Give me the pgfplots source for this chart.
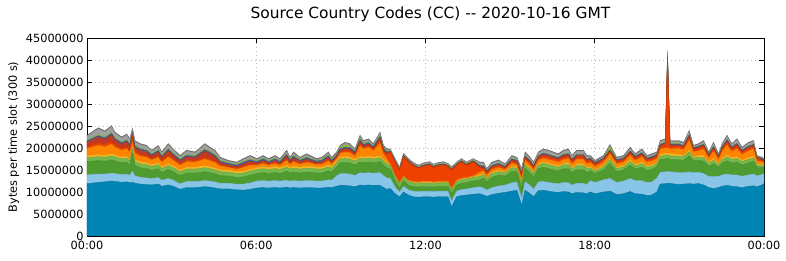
\documentclass[border=0pt]{standalone}
\usepackage{fontspec}
\setmainfont{DejaVu Sans}
\usepackage{pgfplots}
\usepackage{pgfplotstable}
\pgfplotsset{compat=1.18}
\definecolor{cB}{RGB}{0,132,180}
\definecolor{cLB}{RGB}{136,197,230}
\definecolor{cDG}{RGB}{78,155,47}
\definecolor{cLG}{RGB}{116,184,78}
\definecolor{cYw}{RGB}{246,181,33}
\definecolor{cO}{RGB}{255,133,0}
\definecolor{cRO}{RGB}{238,65,0}
\definecolor{cDR}{RGB}{194,58,34}
\definecolor{cBT}{RGB}{58,95,176}
\definecolor{cLI}{RGB}{140,203,42}
\definecolor{cGR}{RGB}{160,160,160}
\definecolor{cDGR}{RGB}{112,112,112}
% values in millions of bytes per 300 s slot
\pgfplotstableread{
h B LB DG LG Yw O RO DR BT LI GR DGR
0.00 11.9 2.0 3.0 0.9 0.5 1.6 0.4 1.0 0.3 0.2 0.9 0.2
0.17 12.0 2.0 3.0 0.9 0.5 1.8 0.5 1.1 0.3 0.2 1.1 0.2
0.40 12.2 1.9 3.0 0.9 0.5 2.1 0.6 1.3 0.3 0.2 1.4 0.2
0.64 12.3 1.8 2.9 0.9 0.5 1.9 0.5 1.2 0.3 0.2 1.2 0.2
0.87 12.5 1.8 3.0 0.9 0.5 2.2 0.6 1.5 0.3 0.2 1.4 0.2
0.99 12.4 1.8 2.9 0.9 0.5 1.7 0.5 1.1 0.3 0.2 1.1 0.2
1.23 12.2 1.8 2.6 0.9 0.5 1.5 0.4 1.0 0.3 0.2 0.9 0.2
1.41 12.3 1.8 2.7 0.9 0.5 1.7 0.4 1.1 0.3 0.2 1.1 0.2
1.52 12.1 1.7 2.3 0.9 0.5 1.5 0.4 1.0 0.3 0.2 1.0 0.2
1.61 12.2 2.6 4.0 0.9 0.5 1.3 0.5 1.2 0.3 0.2 0.6 0.2
1.70 12.0 1.7 2.3 0.9 0.5 1.4 0.4 0.9 0.3 0.2 0.9 0.2
1.88 11.8 1.6 2.1 0.9 0.5 1.3 0.4 0.9 0.3 0.2 0.8 0.2
2.12 11.7 1.5 2.1 0.9 0.5 1.2 0.3 0.9 0.3 0.2 0.8 0.2
2.29 11.6 1.5 1.8 0.9 0.5 1.0 0.3 0.6 0.3 0.2 0.6 0.2
2.53 11.8 1.5 2.0 0.9 0.5 1.2 0.3 0.9 0.3 0.2 0.8 0.2
2.65 11.3 1.4 1.7 0.9 0.5 1.0 0.3 0.7 0.3 0.2 0.6 0.2
2.88 11.6 1.5 2.0 0.9 0.5 1.5 0.4 1.0 0.3 0.2 0.9 0.2
3.06 11.3 1.4 1.9 0.9 0.5 1.2 0.3 0.8 0.3 0.2 0.8 0.2
3.30 10.6 1.3 1.8 0.9 0.5 1.0 0.3 0.6 0.3 0.2 0.6 0.2
3.53 11.0 1.4 1.9 0.9 0.5 1.2 0.3 0.8 0.3 0.2 0.8 0.2
3.83 11.0 1.4 1.9 0.9 0.5 1.1 0.3 0.7 0.3 0.2 0.6 0.2
4.18 11.2 1.4 2.0 0.9 0.5 1.5 0.4 1.4 0.3 0.2 1.0 0.2
4.36 11.1 1.4 1.9 0.9 0.5 1.3 0.4 1.2 0.3 0.2 0.8 0.2
4.54 10.9 1.4 1.8 0.9 0.5 1.2 0.3 1.0 0.3 0.2 0.8 0.2
4.72 10.7 1.3 1.7 0.9 0.5 0.8 0.3 0.5 0.3 0.2 0.5 0.2
5.01 10.7 1.3 1.6 0.9 0.5 0.6 0.2 0.4 0.3 0.2 0.3 0.2
5.31 10.5 1.3 1.5 0.9 0.5 0.5 0.2 0.4 0.3 0.2 0.3 0.2
5.54 10.4 1.4 1.6 0.9 0.5 0.8 0.3 0.5 0.3 0.2 0.5 0.2
5.78 10.6 1.5 1.7 0.9 0.5 0.9 0.3 0.6 0.3 0.2 0.6 0.2
6.02 10.9 1.6 1.7 0.9 0.5 0.5 0.2 0.3 0.3 0.2 0.3 0.2
6.25 11.0 1.6 1.8 0.9 0.5 0.7 0.2 0.5 0.3 0.2 0.4 0.2
6.43 10.9 1.6 1.7 0.9 0.5 0.5 0.2 0.3 0.3 0.2 0.3 0.2
6.67 11.0 1.6 1.8 0.9 0.5 0.7 0.2 0.5 0.3 0.2 0.4 0.2
6.84 10.9 1.6 1.7 0.9 0.5 0.5 0.2 0.3 0.3 0.2 0.3 0.2
7.08 11.1 1.6 2.0 0.9 0.5 1.1 0.3 0.7 0.3 0.2 0.6 0.2
7.20 10.9 1.6 1.8 0.9 0.5 0.6 0.2 0.4 0.3 0.2 0.3 0.2
7.32 11.0 1.6 1.9 0.9 0.5 1.0 0.3 0.6 0.3 0.2 0.6 0.2
7.55 10.9 1.6 1.8 0.9 0.5 0.6 0.2 0.4 0.3 0.2 0.3 0.2
7.79 11.0 1.6 1.9 0.9 0.5 0.8 0.3 0.5 0.3 0.2 0.5 0.2
7.91 11.0 1.6 1.9 0.9 0.5 0.7 0.2 0.4 0.3 0.2 0.4 0.2
8.14 10.9 1.6 1.8 0.9 0.5 0.5 0.2 0.3 0.3 0.2 0.2 0.2
8.32 10.9 1.6 1.8 0.9 0.5 0.6 0.2 0.4 0.3 0.2 0.3 0.2
8.56 11.1 1.7 2.0 0.9 0.5 0.9 0.3 0.5 0.3 0.2 0.5 0.2
8.67 11.0 1.7 1.8 0.9 0.5 0.5 0.2 0.3 0.3 0.2 0.3 0.2
8.85 11.3 2.4 2.0 0.9 0.5 0.5 0.2 0.3 0.3 0.2 0.3 0.2
8.97 11.5 2.7 2.4 0.9 0.5 0.8 0.2 0.5 0.3 0.2 0.4 0.2
9.15 11.5 2.7 2.5 0.9 0.5 1.0 0.3 0.5 0.3 0.6 0.3 0.2
9.32 11.4 2.7 2.5 0.9 0.5 1.0 0.3 0.5 0.3 0.2 0.5 0.2
9.50 11.2 2.6 2.3 0.9 0.5 0.7 0.2 0.4 0.3 0.2 0.3 0.2
9.68 11.6 2.8 2.4 0.9 0.5 2.4 0.4 0.6 0.3 0.2 0.6 0.2
9.80 11.5 2.8 2.3 0.9 0.5 1.8 0.3 0.4 0.3 0.2 0.5 0.2
9.98 11.6 2.8 2.4 0.9 0.5 2.0 0.3 0.4 0.3 0.2 0.5 0.2
10.15 11.5 2.8 2.3 0.9 0.5 1.4 0.3 0.3 0.3 0.2 0.3 0.2
10.39 11.5 2.9 2.5 0.9 0.5 2.8 0.6 0.6 0.3 0.2 0.6 0.2
10.51 11.0 2.8 2.3 0.9 0.5 1.2 0.6 0.3 0.3 0.2 0.3 0.2
10.63 10.6 2.6 2.2 0.9 0.5 0.8 1.0 0.2 0.3 0.2 0.3 0.2
10.75 10.8 2.4 2.0 0.8 0.2 0.2 2.6 0.2 0.1 0.1 0.3 0.1
10.92 9.6 1.6 1.4 0.8 0.2 0.2 3.0 0.2 0.1 0.1 0.3 0.1
11.08 8.9 1.1 0.9 0.8 0.2 0.2 2.8 0.2 0.1 0.1 0.3 0.1
11.22 10.0 1.3 1.2 0.8 0.2 0.2 4.3 0.2 0.1 0.1 0.3 0.1
11.40 9.3 1.2 1.0 0.8 0.2 0.2 4.1 0.2 0.1 0.1 0.3 0.1
11.57 8.9 1.3 1.0 0.8 0.2 0.2 3.5 0.2 0.1 0.1 0.3 0.1
11.75 8.8 1.3 1.0 0.8 0.2 0.2 3.0 0.2 0.1 0.1 0.3 0.1
11.92 8.9 1.3 1.0 0.8 0.2 0.2 3.4 0.2 0.1 0.1 0.3 0.1
12.15 8.9 1.3 1.0 0.8 0.2 0.2 3.7 0.2 0.1 0.1 0.3 0.1
12.28 8.8 1.3 1.0 0.8 0.2 0.2 3.2 0.2 0.1 0.1 0.3 0.1
12.39 8.9 1.3 1.0 0.8 0.2 0.2 3.4 0.2 0.1 0.1 0.3 0.1
12.62 8.9 1.3 1.1 0.8 0.2 0.2 3.6 0.2 0.1 0.1 0.3 0.1
12.80 8.9 1.3 1.1 0.8 0.2 0.2 3.2 0.2 0.1 0.1 0.3 0.1
12.92 6.6 1.4 1.6 0.8 0.2 0.2 4.1 0.2 0.1 0.1 0.3 0.1
13.10 8.9 1.3 1.3 0.8 0.2 0.2 3.3 0.2 0.1 0.1 0.3 0.1
13.28 9.2 1.4 1.4 0.8 0.2 0.2 3.6 0.2 0.1 0.1 0.3 0.1
13.45 9.3 1.4 1.4 0.8 0.2 0.2 2.7 0.2 0.1 0.1 0.3 0.1
13.69 9.5 1.5 1.5 0.8 0.2 0.2 3.1 0.2 0.1 0.1 0.3 0.1
13.92 9.6 1.6 1.5 0.8 0.4 0.6 1.0 0.3 0.2 0.1 0.5 0.2
14.06 9.3 1.6 2.2 0.8 0.4 0.6 0.5 0.3 0.2 0.1 0.6 0.2
14.17 9.0 1.5 1.8 0.7 0.3 0.5 0.4 0.3 0.2 0.1 0.3 0.2
14.35 9.4 1.6 2.3 0.8 0.4 0.6 0.4 0.3 0.2 0.1 0.5 0.2
14.59 9.7 1.7 2.4 0.8 0.4 0.6 0.4 0.3 0.2 0.1 0.5 0.2
14.82 9.9 1.7 2.0 0.7 0.3 0.5 0.3 0.2 0.2 0.1 0.3 0.2
15.06 10.2 1.9 2.6 0.8 0.4 0.6 0.5 0.3 0.2 0.1 0.5 0.2
15.24 10.4 1.9 2.3 0.8 0.3 0.6 0.4 0.3 0.2 0.1 0.4 0.2
15.41 7.0 1.6 2.2 1.0 0.5 0.8 0.6 0.4 0.2 0.1 0.7 0.2
15.53 10.4 2.0 3.0 0.8 0.4 0.6 0.5 0.3 0.2 0.1 0.6 0.2
15.71 9.6 1.9 2.8 0.8 0.4 0.6 0.5 0.3 0.2 0.1 0.5 0.2
15.83 8.9 1.8 2.6 0.8 0.4 0.6 0.4 0.3 0.2 0.1 0.5 0.2
16.00 10.3 2.0 3.0 0.8 0.4 0.7 0.5 0.3 0.2 0.1 0.6 0.2
16.18 10.4 2.0 3.2 0.9 0.4 0.8 0.5 0.4 0.2 0.1 0.7 0.2
16.36 10.2 2.0 3.1 0.9 0.4 0.8 0.5 0.4 0.2 0.1 0.7 0.2
16.54 10.0 2.0 3.0 0.9 0.4 0.8 0.5 0.3 0.2 0.1 0.7 0.2
16.71 9.9 2.0 2.9 0.8 0.4 0.8 0.5 0.3 0.2 0.1 0.6 0.2
16.89 10.1 2.1 3.1 0.9 0.4 0.8 0.5 0.4 0.2 0.1 0.7 0.2
17.07 10.0 2.1 3.2 0.9 0.5 0.9 0.5 0.4 0.2 0.1 0.8 0.2
17.19 9.6 2.0 2.8 0.8 0.4 0.8 0.5 0.3 0.2 0.1 0.6 0.2
17.36 9.9 2.1 3.1 0.9 0.5 0.9 0.5 0.4 0.2 0.1 0.7 0.2
17.60 9.8 2.2 3.1 0.9 0.5 0.9 0.5 0.4 0.2 0.1 0.7 0.2
17.72 9.6 2.1 2.7 0.8 0.4 0.8 0.5 0.3 0.2 0.1 0.6 0.2
17.84 10.0 2.6 2.2 0.7 0.4 0.8 0.5 0.3 0.2 0.1 0.3 0.2
18.01 9.6 2.6 2.0 0.6 0.3 0.7 0.4 0.3 0.2 0.1 0.2 0.2
18.31 10.0 2.8 2.2 0.7 0.4 0.7 0.4 0.3 0.2 0.1 0.3 0.2
18.54 10.2 2.9 3.4 0.8 0.4 1.0 0.4 0.3 0.2 0.6 0.4 0.2
18.78 9.4 2.8 2.4 0.7 0.4 0.7 0.4 0.3 0.2 0.1 0.3 0.2
19.02 9.6 2.9 2.5 0.7 0.4 0.7 0.4 0.3 0.2 0.1 0.3 0.2
19.26 10.1 3.0 3.0 0.8 0.5 1.0 0.4 0.3 0.2 0.1 0.6 0.2
19.43 9.6 3.0 2.6 0.7 0.4 0.9 0.4 0.3 0.2 0.1 0.3 0.2
19.67 9.5 3.1 3.0 0.8 0.5 1.1 0.4 0.3 0.2 0.1 0.6 0.2
19.85 9.2 3.0 2.7 0.7 0.4 0.8 0.4 0.3 0.2 0.1 0.3 0.2
20.02 9.3 3.0 2.8 0.7 0.4 0.9 0.4 0.3 0.2 0.1 0.4 0.2
20.20 10.0 3.2 2.5 0.7 0.4 0.8 0.4 0.3 0.2 0.1 0.3 0.2
20.32 11.8 2.7 2.8 0.8 0.5 1.2 0.5 0.3 0.2 0.1 0.6 0.2
20.50 11.9 2.7 2.9 0.8 0.5 1.2 0.7 0.3 0.2 0.1 0.6 0.2
20.58 12.0 2.7 2.9 0.8 0.5 1.2 20.4 0.4 0.2 0.1 0.7 0.2
20.67 11.9 2.7 2.8 0.8 0.5 1.1 0.6 0.3 0.2 0.1 0.5 0.2
20.73 11.9 2.7 2.8 0.8 0.5 1.1 0.6 0.3 0.2 0.1 0.5 0.2
20.97 11.7 2.7 2.9 0.8 0.5 1.3 0.5 0.3 0.2 0.1 0.5 0.2
21.15 11.8 2.6 2.8 0.8 0.4 1.2 0.5 0.3 0.2 0.1 0.4 0.2
21.35 11.9 2.7 3.6 0.9 0.5 2.2 0.6 0.4 0.2 0.1 0.7 0.2
21.50 11.8 2.6 2.6 0.7 0.4 1.0 0.4 0.3 0.2 0.1 0.3 0.2
21.68 11.9 2.6 2.7 0.7 0.4 1.1 0.5 0.3 0.2 0.1 0.3 0.2
21.86 11.6 2.6 2.8 0.8 0.5 1.5 0.5 0.3 0.2 0.1 0.6 0.2
22.04 11.0 2.6 2.2 0.7 0.4 0.8 0.4 0.3 0.2 0.1 0.2 0.2
22.21 10.8 2.7 2.9 0.8 0.5 1.6 0.5 0.3 0.2 0.1 0.7 0.2
22.39 11.0 2.6 2.0 0.6 0.4 0.8 0.4 0.2 0.2 0.1 0.2 0.2
22.51 11.3 2.6 2.6 0.8 0.5 1.4 0.5 0.3 0.2 0.1 0.5 0.2
22.69 11.5 2.6 3.0 0.9 0.5 2.2 0.6 0.4 0.2 0.1 0.7 0.2
22.86 11.3 2.6 2.7 0.8 0.5 1.3 0.5 0.3 0.2 0.1 0.5 0.2
23.04 11.2 2.7 2.9 0.8 0.5 1.8 0.6 0.3 0.2 0.1 0.8 0.2
23.22 11.0 2.6 2.5 0.8 0.4 1.2 0.5 0.3 0.2 0.1 0.4 0.2
23.45 11.3 2.6 2.7 0.8 0.5 1.5 0.5 0.3 0.2 0.1 0.6 0.2
23.63 11.4 2.7 2.8 0.8 0.5 1.6 0.5 0.3 0.2 0.1 0.6 0.2
23.75 11.2 2.5 1.8 0.6 0.3 0.7 0.4 0.2 0.2 0.1 0.1 0.2
23.93 11.6 2.4 1.6 0.5 0.3 0.5 0.3 0.2 0.2 0.1 0.0 0.2
24.00 11.9 2.3 1.3 0.5 0.3 0.4 0.3 0.2 0.1 0.1 0.0 0.2
}\data
\newcommand{\lay}[2]{\addplot[fill=#1,draw=#1!85!black,line width=0.3bp] table[x=h,y=#2]{\data} \closedcycle;}
\begin{document}
\begin{tikzpicture}
\begin{axis}[
  scale only axis, width=677bp, height=198bp,
  xmin=0, xmax=24, ymin=0, ymax=45,
  stack plots=y,
  xtick={0,6,12,18,24},
  xticklabels={00:00,06:00,12:00,18:00,00:00},
  ytick={0,5,...,45},
  yticklabels={0,5000000,10000000,15000000,20000000,25000000,30000000,35000000,40000000,45000000},
  tick align=inside, major tick length=5bp,
  tick style={black, line width=0.6bp},
  axis line style={black, line width=0.8bp},
  grid=major,
  major grid style={gray!55, line width=0.6bp, dash pattern=on 1bp off 3bp},
  tick label style={font=\fontsize{11.3bp}{13bp}\selectfont},
  /pgf/number format/assume math mode=true,
  xticklabel style={yshift=-2bp},
  title={Source Country Codes (CC) -{}- 2020-10-16 GMT},
  title style={font=\fontsize{15.4bp}{17bp}\selectfont, yshift=7bp, xshift=5bp},
  ylabel={Bytes per time slot (300 s)},
  ylabel style={font=\fontsize{11.3bp}{13bp}\selectfont},
]
\lay{cB}{B}
\lay{cLB}{LB}
\lay{cDG}{DG}
\lay{cLG}{LG}
\lay{cYw}{Yw}
\lay{cO}{O}
\lay{cRO}{RO}
\lay{cDR}{DR}
\lay{cBT}{BT}
\lay{cLI}{LI}
\lay{cGR}{GR}
\lay{cDGR}{DGR}
\coordinate (sw) at (rel axis cs:0,0);
\coordinate (ne) at (rel axis cs:1,1);
\end{axis}
\pgfresetboundingbox
\path ([shift={(-87bp,-25bp)}]sw) rectangle ([shift={(22bp,38bp)}]ne);
\end{tikzpicture}
\end{document}
